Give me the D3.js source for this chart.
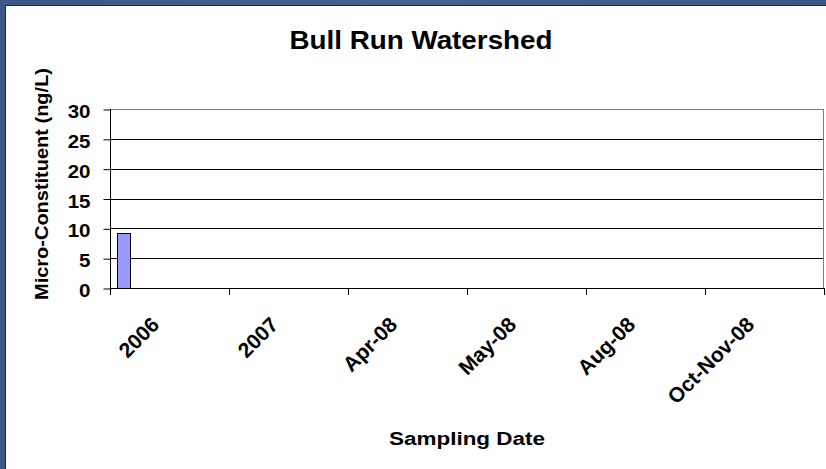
<!DOCTYPE html>
<html><head><meta charset="utf-8">
<script src="https://cdn.jsdelivr.net/npm/d3@7"></script>
<style>
html,body{margin:0;padding:0;background:#3b5a86;}
svg{display:block;}
text{font-family:"Liberation Sans",Arial,sans-serif;font-weight:bold;fill:#000;}
</style></head>
<body>
<svg id="c" width="826" height="469"></svg>
<script>
const categories = ["2006","2007","Apr-08","May-08","Aug-08","Oct-Nov-08"];
const values = [9.3, null, null, null, null, null];
const yTicks = [0,5,10,15,20,25,30];
const title = "Bull Run Watershed";
const xTitle = "Sampling Date";
const yTitle = "Micro-Constituent (ng/L)";

(function(){
const svg = d3.select("#c");
// frame
const defs = svg.append("defs");
const lg = defs.append("linearGradient").attr("id","bg").attr("x1",0).attr("x2",1).attr("y1",0).attr("y2",0);
lg.append("stop").attr("offset","0%").attr("stop-color","#3a5885");
lg.append("stop").attr("offset","50%").attr("stop-color","#45638f");
lg.append("stop").attr("offset","100%").attr("stop-color","#3a5885");
svg.append("rect").attr("x",0).attr("y",0).attr("width",826).attr("height",469).attr("fill","url(#bg)");
svg.append("rect").attr("x",5).attr("y",5).attr("width",821).attr("height",464).attr("fill","#1a2a40");
svg.append("rect").attr("x",6).attr("y",6).attr("width",820).attr("height",463).attr("fill","#fff");

const pL=110, pR=824, pT=109, pB=288;
const x = d3.scaleBand().domain(categories).range([pL,pR]).padding(0);
const y = d3.scaleLinear().domain([0,30]).range([pB,pT]);

// gridlines
svg.append("g").selectAll("line").data(yTicks.filter(d=>d>0)).join("line")
  .attr("x1",pL).attr("x2",pR)
  .attr("y1",d=>Math.round(y(d))+0.5).attr("y2",d=>Math.round(y(d))+0.5)
  .attr("stroke",d=>d===30?"#808080":"#000").attr("stroke-width",1);
// right border of plot area
svg.append("line").attr("x1",pR-0.5).attr("x2",pR-0.5).attr("y1",pT).attr("y2",pB)
  .attr("stroke","#808080");

// bars (8 series slots per category; only first series has data)
const slot = x.bandwidth()*13.1/119, off = x.bandwidth()*7/119;
svg.append("g").selectAll("rect").data(categories.map((c,i)=>({c,v:values[i]})).filter(d=>d.v!=null)).join("rect")
  .attr("x",d=>Math.round(x(d.c)+off)+0.5)
  .attr("y",d=>Math.round(y(d.v))+0.5)
  .attr("width",Math.round(slot))
  .attr("height",d=>Math.round(y(0))-Math.round(y(d.v)))
  .attr("fill","#9999ff").attr("stroke","#000").attr("stroke-width",1);

// y axis
const yAxis = d3.axisLeft(y).tickValues(yTicks).tickSize(7).tickPadding(13);
const gy = svg.append("g").attr("transform",`translate(${pL+0.5},0.5)`).call(yAxis);
gy.select(".domain").attr("stroke","#000").attr("d",`M0,${pT-0.5}V${pB-0.5}`);
gy.selectAll(".tick line").attr("stroke","#000");
gy.selectAll(".tick text").attr("font-size",19).attr("font-family","Liberation Sans, Arial, sans-serif")
  .attr("font-weight","bold").attr("fill","#000").attr("dy","8px")
  .attr("transform","scale(1.08,1)").attr("x",-20/1.08);

// x axis
const xAxis = d3.axisBottom(x).tickSize(0).tickFormat("");
const gx = svg.append("g").attr("transform",`translate(0,${pB+0.5})`).call(xAxis);
gx.select(".domain").attr("stroke","#000").attr("d",`M${pL},0H${pR}`);
gx.selectAll(".tick").remove();
// category boundary ticks
const bounds = categories.map(c=>x(c)).concat([pR]);
svg.append("g").selectAll("line").data(bounds).join("line")
  .attr("x1",d=>Math.round(d)+0.5).attr("x2",d=>Math.round(d)+0.5)
  .attr("y1",pB).attr("y2",pB+7).attr("stroke","#000");
// x labels
svg.append("g").selectAll("text").data(categories).join("text")
  .attr("transform",d=>`translate(${x(d)+x.bandwidth()/2-9},${pB+38}) rotate(-45)`)
  .attr("text-anchor","end").attr("font-size",21).text(d=>d);

// titles
svg.append("text").attr("x",421).attr("y",49).attr("text-anchor","middle").attr("font-size",25)
  .attr("textLength",263).attr("lengthAdjust","spacingAndGlyphs").text(title);
svg.append("text").attr("x",467).attr("y",445).attr("text-anchor","middle").attr("font-size",18)
  .attr("textLength",156).attr("lengthAdjust","spacingAndGlyphs").text(xTitle);
svg.append("text").attr("transform","translate(48,184) rotate(-90)").attr("text-anchor","middle").attr("font-size",18)
  .attr("textLength",232).attr("lengthAdjust","spacingAndGlyphs").text(yTitle);
})();
</script>
</body></html>
